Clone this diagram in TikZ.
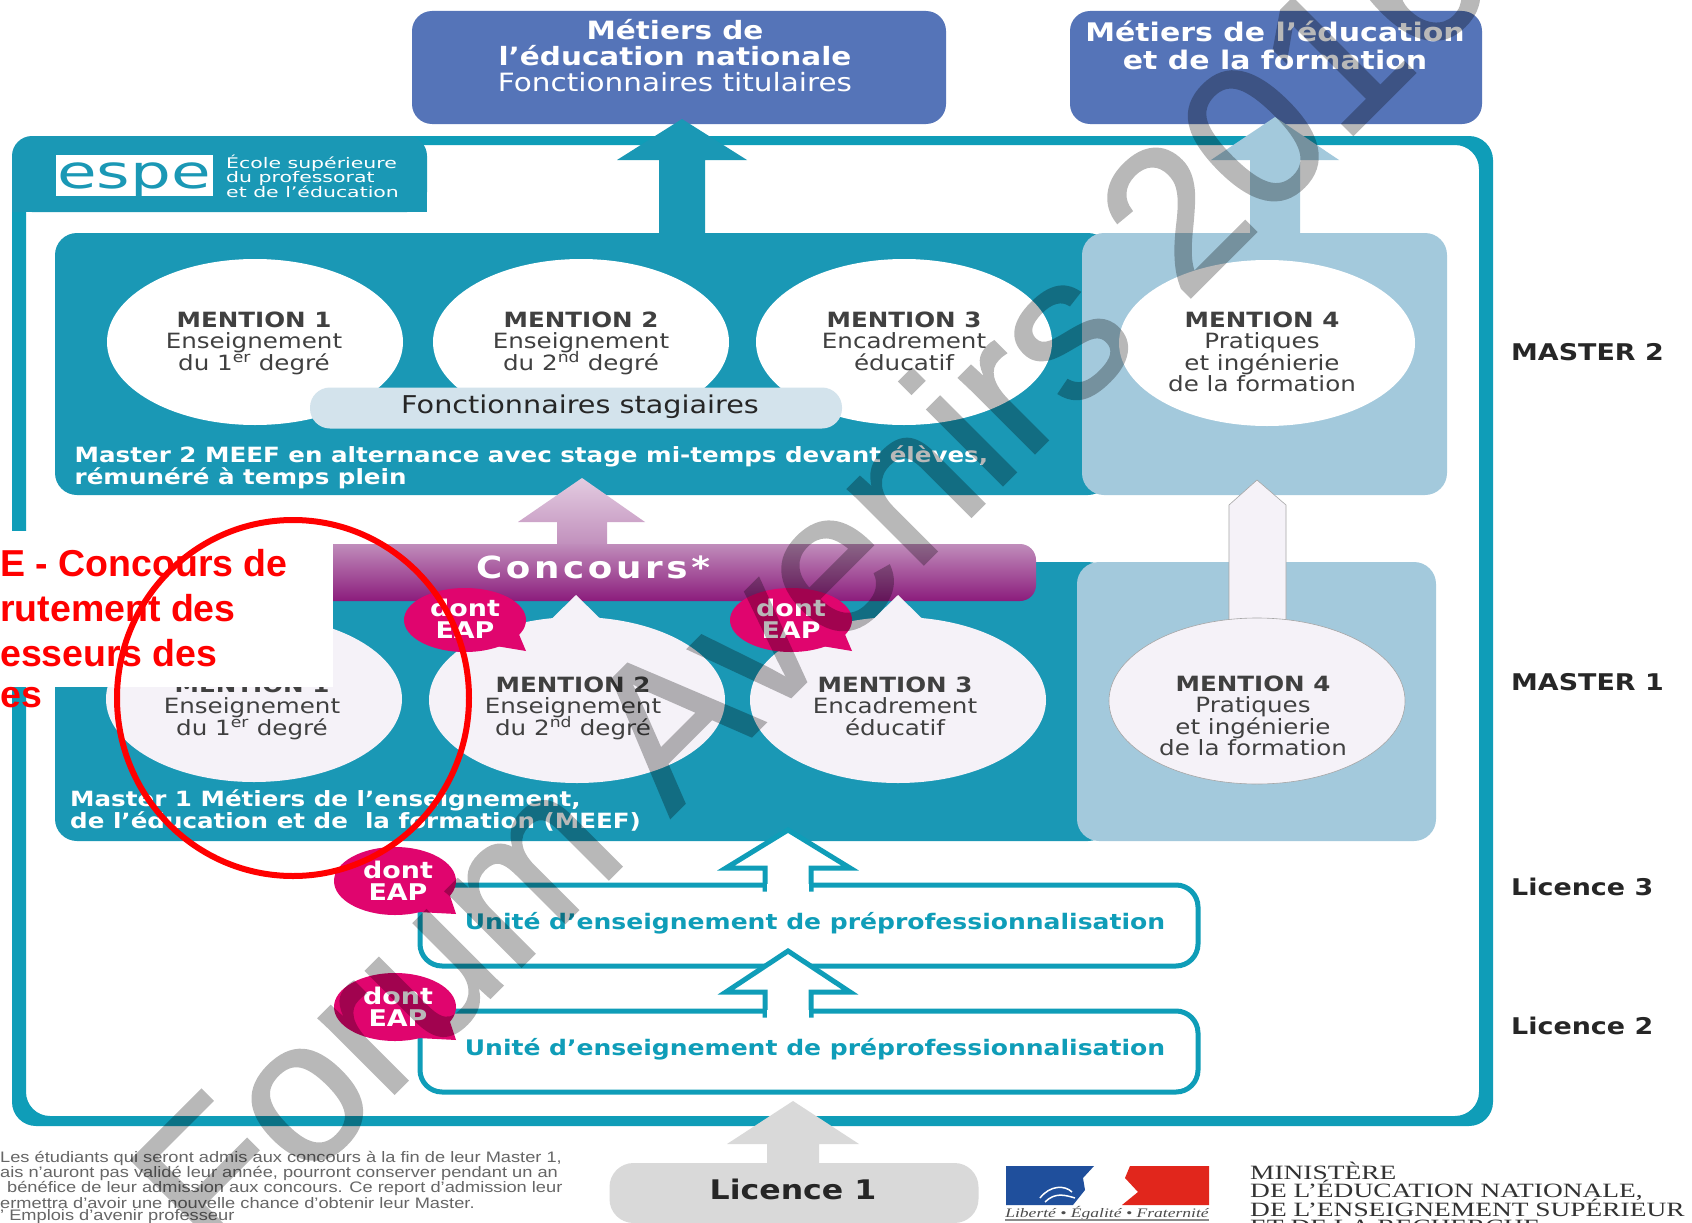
\documentclass[tikz,border=0pt]{standalone}
\usepackage{fontspec}
\setmainfont[FakeStretch=1.17]{DejaVu Sans}
\newfontfamily\logof[FakeStretch=1.4]{DejaVu Sans}
\newfontfamily\arialf{Liberation Sans}
\newfontfamily\wmf[FakeBold=1.2]{Liberation Sans}
\newfontfamily\arialw[FakeStretch=1.2]{Liberation Sans}
\newfontfamily\timesf[FakeStretch=1.35]{Liberation Serif}
\usetikzlibrary{shapes.geometric,shadings}
\definecolor{teal1}{HTML}{1A98B5}
\definecolor{frameb}{HTML}{0F9DB8}
\definecolor{lblue}{HTML}{A3C9DC}
\definecolor{topblue}{HTML}{5574B8}
\definecolor{pillb}{HTML}{D3E3EC}
\definecolor{lilac}{HTML}{F5F2F8}
\definecolor{eap}{HTML}{E0056E}
\definecolor{purp}{HTML}{8B1C7C}
\definecolor{purpl}{HTML}{C08DBB}
\definecolor{arrowg}{HTML}{D9D9D9}
\definecolor{repblue}{HTML}{1F4F9C}
\definecolor{repred}{HTML}{E1261C}
\newcommand{\fsz}[2]{\fontsize{#1}{#2}\selectfont\lineskiplimit=-100pt\relax}
\newcommand{\uparr}[7]{\path[#7] (#1,#2) -- ({#1+#4},#3) -- ({#1+#5},#3) -- ({#1+#5},#6) -- ({#1-#5},#6) -- ({#1-#5},#3) -- ({#1-#4},#3) -- cycle;}
\tikzset{
 x=1pt,y=-1pt,
 circ/.style={ellipse,fill=white,minimum width=296pt,minimum height=166pt,inner sep=0pt},
 circl/.style={circ,fill=lilac},
 ment/.style={align=center,text=black!75,font=\fsz{21}{21.4}},
 wbold/.style={text=white,font=\fsz{21}{22}\bfseries,align=left,anchor=west,inner sep=0pt},
 eaptxt/.style={text=white,font=\fsz{23}{22}\bfseries,align=center},
 eapfill/.style={fill=eap},
 ue/.style={draw=frameb,line width=5pt,rounded corners=22pt},
 uetxt/.style={text=frameb,font=\fsz{21.4}{22}\bfseries},
 outarr/.style={draw=frameb,line width=5pt,fill=white,line join=miter},
 side/.style={anchor=west,inner sep=0pt,text=black!85,font=\fsz{23}{23}\bfseries},
 note/.style={anchor=west,inner sep=0pt,text=black!60,font=\arialw\fsz{15.2}{15}},
 mini/.style={anchor=west,inner sep=0pt,text=black!80,font=\timesf\fsz{20.3}{20}},
 redt/.style={anchor=west,inner sep=0pt,text=red,font=\arialf\bfseries\fsz{37.5}{37}},
}
\newcommand{\mentiontext}[3]{\textbf{MENTION #1}\\#2\\#3}
\begin{document}
\begin{tikzpicture}
\useasboundingbox (0,0) rectangle (1692,1223);
\fill[white] (0,0) rectangle (1692,1223);
% top boxes
\fill[topblue,rounded corners=20pt] (412,11) rectangle (946,124);
\fill[topblue,rounded corners=20pt] (1070,11) rectangle (1482,124);
\node[text=white,align=center,font=\fsz{25.2}{26}] (tb1) at (675,56) {\textbf{Métiers de}\\\textbf{l’éducation nationale}\\Fonctionnaires titulaires};
\node[text=white,align=center,font=\fsz{25.6}{28}\bfseries] (tb2) at (1275,45) {Métiers de l’éducation\\et de la formation};
% frame
\fill[frameb,even odd rule,rounded corners=24pt] (12,136) rectangle (1493,1126) (26,145) rectangle (1479,1116);
% espe tab
\fill[teal1,rounded corners=20pt] (12,212) -- (12,136) -- (427,136) -- (427,212) -- cycle;
\fill[teal1] (12,160) rectangle (427,212);
\fill[white] (56,155) rectangle (213,196);
\node[anchor=base,inner sep=0pt,text=teal1,font=\logof\fsz{46}{46}] (espe) at (134,188) {espe};
\node[text=white,anchor=west,align=left,inner sep=0pt,font=\logof\fsz{14.6}{14.5}] (espet) at (226,176) {École supérieure\\du professorat\\et de l’éducation};
% arrows up to top
\uparr{682}{119}{160}{65}{23}{240}{fill=teal1}
\uparr{1275}{117}{160}{64}{25}{240}{fill=lblue}
% Master 2
\fill[teal1,rounded corners=22pt] (55,233) rectangle (1110,495);
\fill[lblue,rounded corners=22pt] (1082,233) rectangle (1447,495);
\node[circ] (m21) at (255,342) {};
\node[circ] (m22) at (581,342) {};
\node[circ] (m23) at (904,342) {};
\node[circ] (m24) at (1267,343) {};
\node[ment] at (254,343) {\mentiontext{1}{Enseignement}{du 1\textsuperscript{er} degré}};
\node[ment] at (581,343) {\mentiontext{2}{Enseignement}{du 2\textsuperscript{nd} degré}};
\node[ment] at (904,341) {\mentiontext{3}{Encadrement}{éducatif}};
\node[ment] at (1262,352) {\mentiontext{4}{Pratiques}{et ingénierie\\de la formation}};
\node[fill=pillb,rounded corners=20pt,minimum width=532pt,minimum height=41pt,inner sep=0pt] (pill) at (576,408) {};
\node[text=black!85,font=\fsz{24.5}{24}] (pillt) at (580,407) {Fonctionnaires stagiaires};
\node[wbold] (m2t) at (74.5,467) {Master 2 MEEF en alternance avec stage mi-temps devant élèves,\\rémunéré à temps plein};
% Master 1
\fill[teal1,rounded corners=22pt] (55,562) rectangle (1110,841);
\fill[lblue,rounded corners=22pt] (1077,562) rectangle (1436,841);
% M4 arrow
\path[fill=lilac,draw=black!35,line width=.6pt] (1257,480) -- (1286,505) -- (1286,650) -- (1229,650) -- (1229,505) -- cycle;
% concours up arrow
\shade[top color=purpl!45,bottom color=purpl] (582,478) -- (645,522) -- (607,522) -- (607,548) -- (557,548) -- (557,522) -- (518,522) -- cycle;
% circles
\node[circl] (m11) at (254,699) {};
\node[circl] (m12) at (577,700) {};
\node[circl] (m13) at (898,700) {};
\node[circl,draw=black!35,line width=.6pt] (m14) at (1257,701) {};
\fill[lilac] (1230,625) rectangle (1285,650);
% Concours band
\shade[top color=purpl,bottom color=purp,rounded corners=16pt] (300,544) -- (1036,544) -- (1036,601) -- (300,601) -- cycle;
\node[text=white,font=\fsz{30.5}{30}\bfseries] (conc) at (593,567) {\addfontfeature{LetterSpace=12}Concours*};
% peaks
\fill[lilac] (576,595) -- (622,640) -- (530,640) -- cycle;
\fill[lilac] (898,595) -- (944,640) -- (852,640) -- cycle;
\node[ment] at (252,708) {\mentiontext{1}{Enseignement}{du 1\textsuperscript{er} degré}};
\node[ment] at (573,708) {\mentiontext{2}{Enseignement}{du 2\textsuperscript{nd} degré}};
\node[ment] at (895,706) {\mentiontext{3}{Encadrement}{éducatif}};
\node[ment] at (1253,716) {\mentiontext{4}{Pratiques}{et ingénierie\\de la formation}};
\node[wbold] (m1t) at (70,810) {Master 1 Métiers de l’enseignement,\\de l’éducation et de \ la formation (MEEF)};
% UE boxes
\draw[ue] (420,885) rectangle (1198,966);
\draw[ue] (420,1011) rectangle (1198,1092);
\uparr{788}{830}{868}{62}{23}{889}{outarr}
\uparr{788}{951}{992}{62}{23}{1015}{outarr}
\fill[white] (767,884) rectangle (809,895);
\fill[white] (767,1010) rectangle (809,1021);
\node[uetxt] (ue1) at (815,923) {Unité d’enseignement de préprofessionnalisation};
\node[uetxt] (ue2) at (815,1049) {Unité d’enseignement de préprofessionnalisation};
% EAP
\path[eapfill] (490,645) -- (526,651) -- (515,625) -- cycle;
\node[ellipse,eapfill,minimum width=122pt,minimum height=64pt,inner sep=0pt] (e1) at (465,620) {};
\node[eaptxt] at (465,619) {dont\\EAP};
\path[eapfill] (816,645) -- (852,651) -- (841,625) -- cycle;
\node[ellipse,eapfill,minimum width=122pt,minimum height=64pt,inner sep=0pt] (e2) at (791,620) {};
\node[eaptxt] at (791,619) {dont\\EAP};
\path[eapfill] (418,912) -- (456,914) -- (448,890) -- cycle;
\node[ellipse,eapfill,minimum width=122pt,minimum height=68pt,inner sep=0pt] (e3) at (395,881) {};
\node[eaptxt] at (398,881) {dont\\EAP};
\path[eapfill] (418,1038) -- (456,1040) -- (448,1016) -- cycle;
\node[ellipse,eapfill,minimum width=122pt,minimum height=68pt,inner sep=0pt] (e4) at (395,1007) {};
\node[eaptxt] at (398,1007) {dont\\EAP};
% Licence 1
\uparr{793}{1101}{1144}{66}{26}{1170}{fill=arrowg}
\node[fill=arrowg,rounded corners=24pt,minimum width=369pt,minimum height=60pt,inner sep=0pt] (l1) at (794,1193) {};
\node[font=\fsz{27}{26}\bfseries,text=black!85] at (793,1189) {Licence 1};
% side labels
\node[side] (s1) at (1511,352) {MASTER 2};
\node[side] (s2) at (1511,682) {MASTER 1};
\node[side] (s3) at (1511,887) {Licence 3};
\node[side] (s4) at (1511,1026) {Licence 2};
% footnote
\node[note] at (0,1158) {Les étudiants qui seront admis aux concours à la fin de leur Master 1,};
\node[note] at (0,1173) {ais n’auront pas validé leur année, pourront conserver pendant un an};
\node[note] at (7,1188) {bénéfice de leur admission aux concours. Ce report d’admission leur};
\node[note] at (0,1203) {ermettra d’avoir une nouvelle chance d’obtenir leur Master.};
\node[note] at (0,1217) {’ Emplois d’avenir professeur};
% logo
\fill[repblue] (1006,1166) -- (1094,1166) -- (1083,1178) -- (1085,1190) -- (1073,1205) -- (1006,1205) -- cycle;
\fill[repred] (1130,1166) -- (1209,1166) -- (1209,1205) -- (1122,1205) -- (1138,1192) -- (1125,1178) -- cycle;
\draw[white,line width=1.5pt] (1040,1198) .. controls (1050,1185) and (1065,1185) .. (1072,1192);
\draw[white,line width=1.5pt] (1045,1202) .. controls (1055,1192) and (1065,1195) .. (1075,1198);
\node[text=black!70,font=\timesf\itshape\fsz{13}{13}] (motto) at (1107,1213) {Liberté • Égalité • Fraternité};
\fill[black!45] (1005,1219) rectangle (1209,1221);
\node[mini] at (1250,1171) {MINISTÈRE};
\node[mini] at (1250,1190) {DE L’ÉDUCATION NATIONALE,};
\node[mini] at (1250,1208) {DE L’ENSEIGNEMENT SUPÉRIEUR};
\begin{scope}
\clip (0,0) rectangle (1692,1223);
\node[mini] at (1250,1227) {ET DE LA RECHERCHE};
% watermark
\begin{scope}[transparency group,opacity=.28]
\node[anchor=base west,inner sep=0pt,rotate=45,text=black,font=\wmf\fsz{202}{202}] (wm) at (218,1270) {Forum Avenirs 2016};
\end{scope}
\end{scope}
% red note
\fill[white] (0,531) rectangle (333,687);
\node[redt] at (0,563) {E - Concours de};
\node[redt] at (0,608) {rutement des};
\node[redt] at (0,653) {esseurs des};
\node[redt] at (0,698) {es};
\node[ellipse,draw=red,line width=6pt,minimum width=352pt,minimum height=356pt,inner sep=0pt] (red) at (293,698) {};
\end{tikzpicture}
\end{document}
